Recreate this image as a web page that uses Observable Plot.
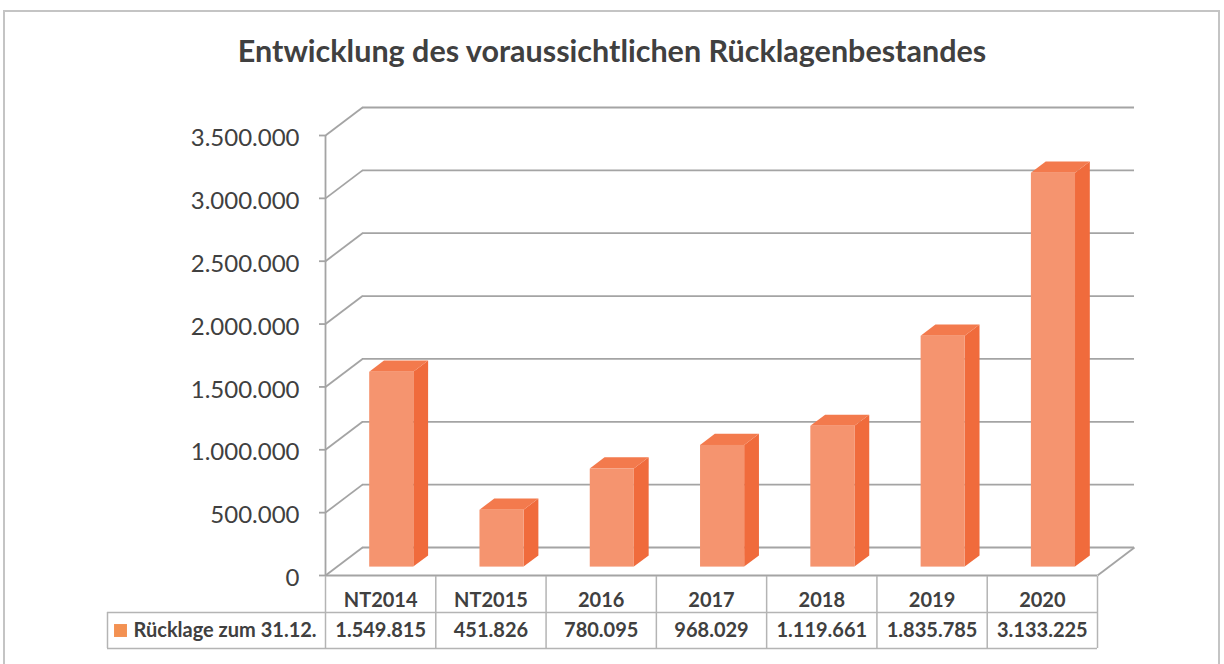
<!DOCTYPE html>
<html>
<head>
<meta charset="utf-8">
<script src="https://cdn.jsdelivr.net/npm/d3@7"></script>
<script src="https://cdn.jsdelivr.net/npm/@observablehq/plot@0.6"></script>
<style>
  html, body { margin: 0; padding: 0; background: #ffffff; }
  #page { position: relative; width: 1224px; height: 664px; overflow: hidden; background: #fff; }
  #frame { position: absolute; left: 3px; top: 10px; width: 1217px; height: 700px; box-sizing: border-box; border: 2px solid #c4c4c4; }
  #title { position: absolute; left: 0; top: 32px; width: 1224px; text-align: center;
           font-family: Lato, "Open Sans", sans-serif; font-weight: bold; font-size: 30.5px; line-height: 1.2;
           color: #404040; }
  #chart { position: absolute; left: 0; top: 100px; }
  #table { position: absolute; left: 0; top: 576px; }
</style>
</head>
<body>
<div id="page">
  <div id="frame"></div>
  <div id="title"></div>
  <div id="chart"></div>
  <div id="table"></div>
</div>
<script>
// ---- data ----
const titleText = "Entwicklung des voraussichtlichen Rücklagenbestandes";
const categories = ["NT2014", "NT2015", "2016", "2017", "2018", "2019", "2020"];
const values = [1549815, 451826, 780095, 968029, 1119661, 1835785, 3133225];
const seriesLabel = "Rücklage zum 31.12.";
const yTicks = [0, 500000, 1000000, 1500000, 2000000, 2500000, 3000000, 3500000];

// ---- formatting ----
const de = d3.formatLocale({decimal: ",", thousands: ".", grouping: [3], currency: ["", " €"]});
const fmt = de.format(",d");

document.getElementById("title").textContent = titleText;

// ---- layout / style ----
const W = 1224;
const chartH = 476, mTop = 35, mBottom = 1, mLeft = 325, mRight = 127;
const yMax = 3500000;
const nCat = categories.length;
const pxPerX = (W - mLeft - mRight) / nCat;
const pxPerY = (chartH - mTop - mBottom) / yMax;
const depthPx = [37, -28];                 // 3D depth offset in pixels
const ddx = depthPx[0] / pxPerX;           // depth in x data units
const ddy = -depthPx[1] / pxPerY;          // depth in y data units
const barFront = 0.3, barBack = 0.7;       // bar position within depth
const barHalf = 0.2;                       // half bar width in category units
const gridColor = "#a4a4a4";
const frontColor = "#f5946f", sideColor = "#f06b3c", topColor = "#f37a4d", legendColor = "#f39152";
const textColor = "#404040";
const font = "Lato, 'Open Sans', sans-serif";

const bars = categories.map((c, i) => ({i, c, v: values[i]}));
const bdx = depthPx[0] * barFront, bdy = depthPx[1] * barFront;
const sdx = ddx * (barBack - barFront), sdy = ddy * (barBack - barFront);

const sideData = bars.flatMap(b => [
  {i: b.i, x: b.i + 0.5 + barHalf, y1: 0, y2: b.v},
  {i: b.i, x: b.i + 0.5 + barHalf + sdx, y1: sdy, y2: b.v + sdy}
]);
const topData = bars.flatMap(b => [
  {i: b.i, y: b.v, x1: b.i + 0.5 - barHalf, x2: b.i + 0.5 + barHalf},
  {i: b.i, y: b.v + sdy, x1: b.i + 0.5 - barHalf + sdx, x2: b.i + 0.5 + barHalf + sdx}
]);

const chart = Plot.plot({
  width: W,
  height: chartH,
  marginTop: mTop, marginBottom: mBottom, marginLeft: mLeft, marginRight: mRight,
  x: {domain: [0, nCat], axis: null},
  y: {domain: [0, yMax], axis: null},
  style: {background: "transparent", overflow: "visible"},
  marks: [
    // back wall gridlines
    Plot.ruleY(yTicks, {dx: depthPx[0], dy: depthPx[1], stroke: gridColor, strokeWidth: 1.8}),
    // side wall diagonals
    Plot.link(yTicks, {x1: 0, y1: d => d, x2: ddx, y2: d => d + ddy, stroke: gridColor, strokeWidth: 1.8}),
    // floor right edge
    Plot.link([0], {x1: nCat, y1: 0, x2: nCat + ddx, y2: ddy, stroke: gridColor, strokeWidth: 1.8}),
    // floor front edge
    Plot.ruleY([0], {stroke: gridColor, strokeWidth: 1.8}),
    // front vertical axis + ticks
    Plot.ruleX([0], {y1: 0, y2: yMax, stroke: gridColor, strokeWidth: 1.8}),
    Plot.ruleY(yTicks, {x1: 0, x2: 0, insetLeft: -6, stroke: gridColor, strokeWidth: 1.8}),
    Plot.text(yTicks, {x: 0, y: d => d, text: d => fmt(d), textAnchor: "end", dx: -26, dy: 3,
      fontSize: 24, fontFamily: font, fill: textColor}),
    // bars: side, top, front
    Plot.areaY(sideData, {x: "x", y1: "y1", y2: "y2", z: "i", fill: sideColor, dx: bdx, dy: bdy}),
    Plot.areaX(topData, {y: "y", x1: "x1", x2: "x2", z: "i", fill: topColor, dx: bdx, dy: bdy}),
    Plot.rectY(bars, {x1: d => d.i + 0.5 - barHalf, x2: d => d.i + 0.5 + barHalf, y1: 0, y2: "v",
      fill: frontColor, dx: bdx, dy: bdy})
  ]
});
document.getElementById("chart").appendChild(chart);

// ---- data table ----
const labelColW = 218;
const tableStroke = "#b4b4b4";
const table = Plot.plot({
  width: W,
  height: 88,
  marginTop: 0, marginBottom: 16, marginLeft: mLeft, marginRight: mRight,
  x: {domain: [0, nCat], axis: null},
  y: {domain: [0, 2], range: [0, 72], axis: null},
  style: {background: "transparent", overflow: "visible"},
  marks: [
    Plot.ruleX(d3.range(nCat + 1), {stroke: tableStroke, strokeWidth: 1.5}),
    Plot.ruleY([1, 2], {insetLeft: -labelColW, stroke: tableStroke, strokeWidth: 1.5}),
    Plot.ruleX([0], {y1: 1, y2: 2, dx: -labelColW, stroke: tableStroke, strokeWidth: 1.5}),
    Plot.text(categories, {x: (d, i) => i + 0.5, y: 0.5, dy: 6, text: d => d,
      fontSize: 20, fontWeight: "bold", fontFamily: font, fill: textColor}),
    Plot.text(values, {x: (d, i) => i + 0.5, y: 1.5, text: d => fmt(d),
      fontSize: 20, fontWeight: "bold", fontFamily: font, fill: textColor}),
    Plot.dot([seriesLabel], {x: 0, y: 1.5, dx: -205, symbol: "square", r: 7.3, fill: legendColor, stroke: null}),
    Plot.text([seriesLabel], {x: 0, y: 1.5, dx: -192, textAnchor: "start", text: d => d,
      fontSize: 20, fontWeight: "bold", fontFamily: font, fill: textColor})
  ]
});
document.getElementById("table").appendChild(table);
</script>
</body>
</html>
